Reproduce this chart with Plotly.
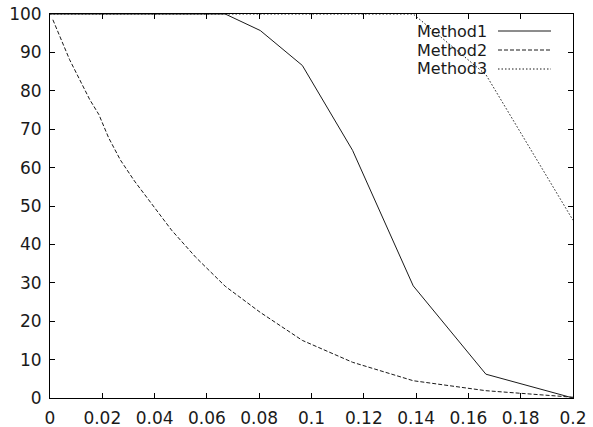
import plotly.graph_objects as go

# ---- data ----
m1_x = [0.0, 0.0670, 0.0804, 0.0965, 0.1157, 0.1389, 0.1667, 0.2000]
m1_y = [100.0, 100.0, 95.7, 86.6, 64.5, 29.2, 6.2, 0.0]

m2_x = [0.0011, 0.0075, 0.0152, 0.0187, 0.0224, 0.0269, 0.0323, 0.0388, 0.0465,
        0.0558, 0.0670, 0.0804, 0.0965, 0.1157, 0.1389, 0.1667, 0.2000]
m2_y = [98.5, 88.1, 77.7, 73.8, 67.8, 62.0, 56.5, 50.7, 43.7,
        36.6, 29.1, 22.3, 15.0, 9.3, 4.5, 1.9, 0.2]

m3_x = [0.0, 0.1389, 0.1667, 0.2000]
m3_y = [100.0, 100.0, 84.2, 46.3]

x_ticks = [0, 0.02, 0.04, 0.06, 0.08, 0.1, 0.12, 0.14, 0.16, 0.18, 0.2]
x_tick_labels = ["0", "0.02", "0.04", "0.06", "0.08", "0.1", "0.12", "0.14", "0.16", "0.18", "0.2"]
y_ticks = [0, 10, 20, 30, 40, 50, 60, 70, 80, 90, 100]
y_tick_labels = [str(v) for v in y_ticks]

names = ["Method1", "Method2", "Method3"]
dashes = ["solid", "4px,2px", "1.5px,2px"]

FONT = "DejaVu Sans"
INK = "#1a1a1a"

fig = go.Figure()
for name, xs, ys, d in zip(names, [m1_x, m2_x, m3_x], [m1_y, m2_y, m3_y], dashes):
    fig.add_trace(go.Scatter(x=xs, y=ys, mode="lines", name=name,
                             line=dict(color=INK, width=1, dash=d),
                             showlegend=False, cliponaxis=True))

# gnuplot-style key: text then line sample
W, H = 593, 427
L, R, T, B = 50, 20, 14, 29
pw, ph = W - L - R, H - T - B
def px_x(p):
    return (p - L) / pw
def px_y(p):
    return 1 - (p - T) / ph

shapes = []
annotations = []
for i, (name, d) in enumerate(zip(names, dashes)):
    yc = 31 + 19 * i
    annotations.append(dict(x=px_x(488), y=px_y(yc), xref="paper", yref="paper",
                            text=name, showarrow=False, xanchor="right", yanchor="middle",
                            borderpad=0,
                            font=dict(family=FONT, size=16, color=INK)))
    shapes.append(dict(type="line", xref="paper", yref="paper",
                       x0=px_x(498), x1=px_x(551), y0=px_y(yc), y1=px_y(yc),
                       line=dict(color=INK, width=1, dash=d)))

fig.update_layout(
    width=W, height=H,
    margin=dict(l=L, r=R, t=T, b=B, pad=0),
    plot_bgcolor="white", paper_bgcolor="white",
    font=dict(family=FONT, size=17, color=INK),
    shapes=shapes, annotations=annotations,
    hovermode=False,
    xaxis=dict(range=[0, 0.2], tickvals=x_ticks, ticktext=x_tick_labels,
               showgrid=False, zeroline=False, showline=True, linecolor="black",
               linewidth=1, mirror="allticks", ticks="inside", ticklen=5,
               tickcolor="black", tickfont=dict(size=17), ticklabelstandoff=5,
               automargin=False),
    yaxis=dict(range=[0, 100], tickvals=y_ticks, ticktext=y_tick_labels,
               showgrid=False, zeroline=False, showline=True, linecolor="black",
               linewidth=1, mirror="allticks", ticks="inside", ticklen=5,
               tickcolor="black", tickfont=dict(size=17), ticklabelstandoff=4,
               automargin=False),
)

fig.write_html("out.html", config={"displayModeBar": False},
               post_script="document.body.style.margin='0';document.body.style.overflow='hidden';")
